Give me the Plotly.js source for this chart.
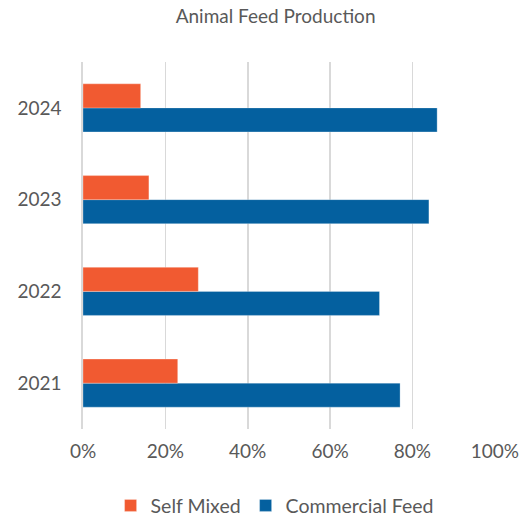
<!DOCTYPE html>
<html>
<head>
<meta charset="utf-8">
<script src="https://cdn.plot.ly/plotly-3.0.1.min.js"></script>
<style>
  html, body { margin: 0; padding: 0; background: #ffffff; }
  #chart { width: 520px; height: 516px; }
</style>
</head>
<body>
<div id="chart"></div>
<script>
// Share of animal feed by source, per year
const years = ['2021', '2022', '2023', '2024'];
const selfMixed = [0.23, 0.28, 0.16, 0.14];
const commercialFeed = [0.77, 0.72, 0.84, 0.86];
const xTicks = [0, 0.2, 0.4, 0.6, 0.8, 1.0];

const textColor = '#595959';
const fontFamily = 'Lato, "Open Sans", sans-serif';

const traces = [
  {
    type: 'bar',
    orientation: 'h',
    name: 'Commercial Feed',
    y: years,
    x: commercialFeed,
    marker: { color: '#04609f', line: { color: 'rgba(255,255,255,0.35)', width: 0.8 } },
    legendrank: 2,
    hoverinfo: 'skip'
  },
  {
    type: 'bar',
    orientation: 'h',
    name: 'Self Mixed',
    y: years,
    x: selfMixed,
    marker: { color: '#f15a31', line: { color: 'rgba(255,255,255,0.35)', width: 0.8 } },
    legendrank: 1,
    hoverinfo: 'skip'
  }
];

const layout = {
  width: 520,
  height: 516,
  margin: { l: 83, r: 25, t: 62, b: 87, autoexpand: false },
  paper_bgcolor: '#ffffff',
  plot_bgcolor: '#ffffff',
  font: { family: fontFamily, color: textColor, size: 19 },
  title: {
    text: 'Animal Feed Production',
    font: { family: fontFamily, size: 19, color: textColor },
    x: 0.53,
    xanchor: 'center',
    y: 0.968,
    yanchor: 'middle'
  },
  barmode: 'group',
  bargap: 0.476,
  bargroupgap: 0,
  xaxis: {
    range: [0, 1.0005],
    tickvals: xTicks,
    tickformat: '.0%',
    showgrid: true,
    gridcolor: '#d9d9d9',
    gridwidth: 1.6,
    zeroline: false,
    showline: false,
    ticks: '',
    ticklabelstandoff: 9,
    tickfont: { size: 19, color: textColor },
    fixedrange: true
  },
  yaxis: {
    type: 'category',
    categoryorder: 'array',
    categoryarray: years,
    showgrid: false,
    zeroline: false,
    showline: true,
    linecolor: '#d9d9d9',
    linewidth: 1.6,
    ticks: '',
    ticklabelstandoff: 16,
    tickfont: { size: 19, color: textColor },
    fixedrange: true
  },
  showlegend: true,
  legend: {
    orientation: 'h',
    x: 0.465,
    xanchor: 'center',
    y: -0.209,
    yanchor: 'middle',
    font: { family: fontFamily, size: 19.5, color: textColor },
    itemwidth: 30,
    traceorder: 'normal'
  }
};

Plotly.newPlot('chart', traces, layout, { displayModeBar: false, staticPlot: true });
</script>
</body>
</html>
